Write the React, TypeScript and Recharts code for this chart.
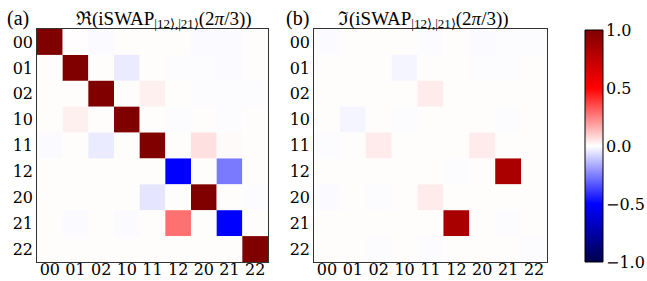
import React from 'react';
import { BarChart, Bar, XAxis, YAxis, Cell } from 'recharts';

const states = ['00', '01', '02', '10', '11', '12', '20', '21', '22'];

const reValues: number[][] = [
  [1.0, 0.003, -0.01, 0.005, 0.005, 0.005, -0.01, -0.01, 0.005],
  [0.005, 1.0, 0.005, -0.04, 0.005, -0.005, -0.005, -0.01, 0.005],
  [0.005, 0.005, 1.0, 0.005, 0.03, 0.005, -0.005, -0.005, -0.005],
  [0.005, 0.03, 0.005, 1.0, 0.005, -0.005, 0.005, -0.005, 0.005],
  [-0.01, 0.005, -0.04, 0.005, 1.0, 0.005, 0.06, 0.01, 0.005],
  [0.005, 0.005, 0.005, 0.005, 0.005, -0.5, 0.005, -0.26, 0.005],
  [0.005, 0.005, 0.005, 0.005, -0.05, 0.005, 1.0, 0.005, -0.005],
  [0.005, -0.01, 0.005, -0.01, 0.005, 0.28, 0.005, -0.5, 0.005],
  [0.005, 0.005, 0.005, 0.005, 0.005, 0.005, 0.005, 0.005, 1.0],
];

const imValues: number[][] = [
  [-0.01, 0.005, 0.005, 0.005, -0.005, 0.005, -0.01, -0.005, -0.005],
  [0.005, 0.005, 0.005, -0.02, 0.005, 0.005, -0.005, -0.005, 0.005],
  [0.005, 0.005, 0.005, 0.005, 0.04, 0.005, 0.005, 0.005, 0.005],
  [0.005, -0.02, 0.005, -0.005, 0.005, 0.005, 0.005, -0.005, 0.005],
  [-0.005, 0.005, 0.04, 0.005, 0.005, 0.005, 0.04, 0.005, 0.005],
  [0.005, 0.005, 0.005, 0.005, 0.005, -0.005, 0.005, 0.83, 0.005],
  [-0.01, 0.005, -0.005, 0.005, 0.04, 0.005, 0.005, 0.005, 0.005],
  [0.005, 0.005, 0.005, 0.005, 0.005, 0.84, 0.005, -0.005, 0.005],
  [0.005, 0.005, -0.005, 0.005, -0.005, 0.005, 0.005, 0.005, -0.005],
];

const colorbarTicks = [-1, -0.5, 0, 0.5, 1];
const colorbarRange = [{ key: 'cb', range: [-1, 1] }];

function seismic(v: number): string {
  let t = (v + 1) / 2;
  t = Math.max(0, Math.min(1, t));
  let r = 0, g = 0, b = 0;
  if (t < 0.25) {
    b = 0.3 + 0.7 * (t / 0.25);
  } else if (t < 0.5) {
    const s = (t - 0.25) / 0.25;
    r = s; g = s; b = 1;
  } else if (t < 0.75) {
    const s = (t - 0.5) / 0.25;
    r = 1; g = 1 - s; b = 1 - s;
  } else {
    const s = (t - 0.75) / 0.25;
    r = 1 - 0.5 * s; g = 0; b = 0;
  }
  const h = (x: number) => Math.round(x * 255).toString(16).padStart(2, '0');
  return `#${h(r)}${h(g)}${h(b)}`;
}

const rows = states.map((s) => {
  const o: Record<string, any> = { row: s };
  states.forEach((_, j) => { o[`c${j}`] = 1; });
  return o;
});

const xTicks = states.map((_, j) => j + 0.5);
const tickStyle = { fontFamily: 'DejaVu Serif', fontSize: 16, fill: '#000' };

function Heatmap({ values, yWidth, right }: { values: number[][]; yWidth: number; right: number }) {
  return (
    <BarChart
      width={280}
      height={281}
      data={rows}
      layout="vertical"
      barCategoryGap={0}
      barGap={0}
      margin={{ top: 29, right, bottom: 0, left: 0 }}
    >
      {states.map((_, j) => (
        <Bar key={j} dataKey={`c${j}`} stackId="a" isAnimationActive={false}>
          {states.map((__, i) => (
            <Cell key={i} fill={seismic(values[i][j])} />
          ))}
        </Bar>
      ))}
      <XAxis
        type="number"
        domain={[0, 9]}
        ticks={xTicks}
        tickFormatter={(v: number) => states[Math.floor(v)]}
        axisLine={false}
        tickLine={false}
        tickSize={0}
        tickMargin={2}
        height={19}
        interval={0}
        tick={tickStyle}
      />
      <YAxis
        type="category"
        dataKey="row"
        width={yWidth}
        axisLine={false}
        tickLine={false}
        tickSize={0}
        tickMargin={4}
        interval={0}
        tick={tickStyle}
      />
    </BarChart>
  );
}

const frameStyle: React.CSSProperties = {
  position: 'absolute',
  border: '1px solid #333',
  boxSizing: 'border-box',
  pointerEvents: 'none',
};

export default function App() {
  const titleFont = { fontFamily: 'Liberation Serif', fontSize: 19, fill: '#000' };
  return (
    <div style={{ position: 'absolute', left: 0, top: 0, width: 647, height: 281, background: '#fff' }}>
      <div style={{ position: 'absolute', left: 0, top: 0 }}>
        <Heatmap values={reValues} yWidth={37} right={12} />
      </div>
      <div style={{ ...frameStyle, left: 36, top: 28, width: 233, height: 235 }} />
      <div style={{ position: 'absolute', left: 280, top: 0 }}>
        <Heatmap values={imValues} yWidth={34} right={13} />
      </div>
      <div style={{ ...frameStyle, left: 313, top: 28, width: 235, height: 235 }} />
      <div style={{ position: 'absolute', left: 560, top: 0 }}>
        <BarChart
          width={87}
          height={281}
          data={colorbarRange}
          barCategoryGap={0}
          margin={{ top: 30, right: 0, bottom: 19, left: 25 }}
        >
          <defs>
            <linearGradient id="seismicGrad" x1="0" y1="0" x2="0" y2="1">
              {Array.from({ length: 21 }, (_, k) => (
                <stop key={k} offset={`${k * 5}%`} stopColor={seismic(1 - k * 0.1)} />
              ))}
            </linearGradient>
          </defs>
          <XAxis dataKey="key" hide />
          <YAxis
            orientation="right"
            type="number"
            domain={[-1, 1]}
            ticks={colorbarTicks}
            width={44}
            axisLine={false}
            tickLine={false}
            tickSize={0}
            tickMargin={3}
            interval={0}
            tick={tickStyle}
            tickFormatter={(v: number) => (v < 0 ? '\u2212' : '') + Math.abs(v).toFixed(1)}
          />
          <Bar dataKey="range" fill="url(#seismicGrad)" stroke="#000" strokeWidth={1} isAnimationActive={false} />
        </BarChart>
      </div>
      <svg width={647} height={40} style={{ position: 'absolute', left: 0, top: 0, overflow: 'visible' }}>
        <text x={7} y={25} {...titleFont} fontSize={20}>(a)</text>
        <text x={76} y={25} {...titleFont}>
          ℜ(iSWAP<tspan fontSize={13} dy={3}>|12⟩,|21⟩</tspan>
          <tspan dy={-3}>(2</tspan>
          <tspan fontStyle="italic">π</tspan>/3))
        </text>
        <text x={286} y={25} {...titleFont} fontSize={20}>(b)</text>
        <text x={338} y={25} {...titleFont}>
          ℑ(iSWAP<tspan fontSize={13} dy={3}>|12⟩,|21⟩</tspan>
          <tspan dy={-3}>(2</tspan>
          <tspan fontStyle="italic">π</tspan>/3))
        </text>
      </svg>
    </div>
  );
}
